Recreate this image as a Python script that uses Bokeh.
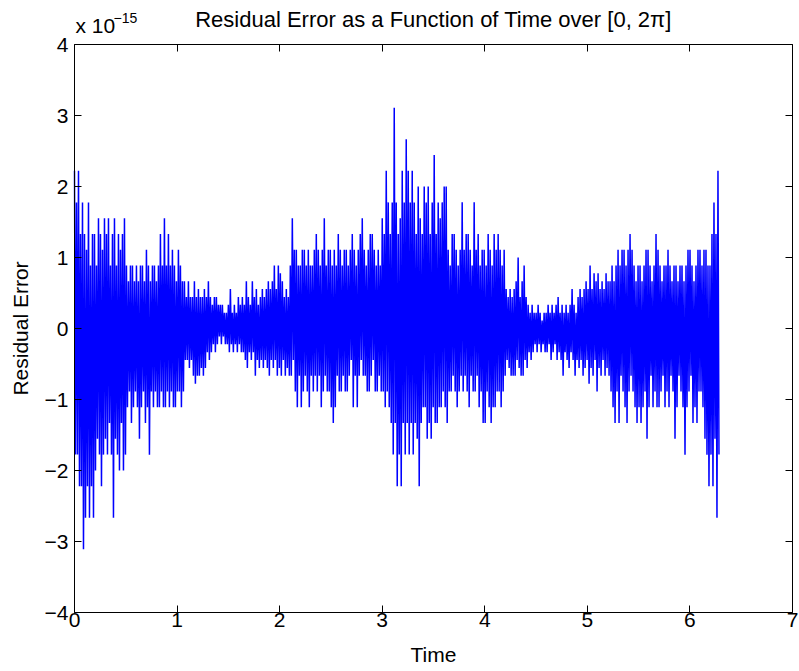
import numpy as np
from bokeh.plotting import figure
from bokeh.models import LinearAxis, FixedTicker, Label, Range1d
from bokeh.embed import file_html
from bokeh.resources import INLINE

# Residual values, in units of 2**-53 (half machine epsilon).
# "crest" values are the upward strokes, "trough" values the downward strokes,
# one after the other along the time axis.
crest_a = [20, 16, 20, 12, 16, 12, 10, 16, 8, 12, 12, 8, 14, 12, 10, 14, 12, 14, 8, 12, 14, 8, 12, 10, 12, 14]
trough_a = [-16, -16, -20, -20, -28, -24, -20, -24, -20, -24, -18, -14, -16, -20, -16, -14, -16, -12, -16, -24, -14, -16, -18, -12, -18, -16]

crest_b = [8, 6, 8, 8, 6, 8, 6, 8, 8, 6, 10, 8, 6, 8, 8, 6, 8, 12, 8, 14, 8, 12, 8, 10, 8, 6, 10, 8, 6]
trough_b = [-10, -8, -12, -10, -8, -10, -14, -10, -8, -12, -10, -16, -8, -10, -8, -10, -10, -8, -10, -10, -8, -10, -8, -10, -10, -8, -8, -10, -8]

crest_c1 = [6, 4, 6, 4, 4, 6, 4, 5, 4]
trough_c1 = [-4, -4, -5, -4, -6, -7, -6, -6, -5]

crest_c2 = [4, 5, 4, 6, 4, 3, 4, 4, 3, 3, 3, 2, 2, 3, 5, 2, 3, 2, 4, 3, 4, 3, 6, 4, 3, 6,
            4, 5, 3, 4, 5, 4, 5, 6, 5, 6, 8, 5, 8, 7, 6, 4, 5, 4]
trough_c2 = [-6, -5, -3, -4, -3, -2, -3, -2, -1, -2, -1, -2, -2, -3, -2, -3, -2, -3, -2, -3, -3, -4, -5, -3, -4, -3,
             -6, -4, -5, -4, -5, -4, -5, -6, -4, -5, -4, -6, -5, -6, -4, -6, -5, -6]

crest_d1 = [8, 14, 10, 10, 8, 8, 10, 10, 8, 10, 8, 8, 10, 12, 10, 8, 10, 14, 8, 10, 10, 8, 10, 8,
            12, 10, 8, 10, 10, 8, 10, 12, 10, 8, 10, 12, 14, 10, 8, 10, 12, 12, 10, 8, 10, 8]
trough_d1 = [-6, -4, -8, -10, -6, -10, -8, -6, -8, -10, -6, -8, -6, -8, -6, -10, -8, -6, -8, -8, -10, -12, -10, -6,
             -8, -8, -6, -8, -8, -6, -4, -10, -6, -10, -6, -4, -6, -6, -8, -8, -6, -4, -8, -8, -6, -8]

crest_d2 = [14, 12, 20, 16, 12, 16, 28, 16, 12, 14, 20, 16, 24, 20, 16, 20, 16, 12, 18, 14, 12, 18, 16, 18,
            12, 16, 22, 12, 16, 14, 16, 18]
trough_d2 = [-8, -10, -8, -10, -12, -16, -12, -20, -16, -20, -12, -16, -12, -16, -12, -16, -12, -14, -20, -12,
             -10, -10, -14, -12, -14, -10, -12, -12, -10, -10, -8, -10]

crest_d3 = [18, 10, 8, 12, 12, 10, 8, 10, 16, 10, 12, 12, 10, 8, 16, 10, 12, 8, 10, 10, 8, 12, 10, 8, 12, 10, 12, 10, 8, 10]
trough_d3 = [-12, -8, -8, -6, -8, -10, -8, -6, -8, -6, -8, -10, -6, -8, -8, -6, -10, -8, -12, -12, -8, -10, -12, -10,
             -10, -8, -8, -10, -8, -6]

crest_f1 = [5, 4, 5, 4, 5, 6, 9, 4, 6, 8, 4]
trough_f1 = [-4, -5, -6, -6, -6, -4, -5, -6, -6, -4, -5]

crest_f2 = [3, 2, 3, 2, 2, 3, 2, 1, 2,
            2, 3, 2, 3, 2, 3, 4, 2, 3, 2, 3, 2, 3, 5, 3, 2,
            4, 5, 4, 5, 6, 5, 8, 5, 7, 6, 7, 5, 6, 5, 7, 6]
trough_f2 = [-3, -4, -3, -2, -3, -2, -3, -2, -3,
             -3, -2, -4, -3, -2, -4, -3, -4, -6, -3, -4, -5, -3, -4, -6, -4,
             -5, -4, -6, -5, -4, -7, -5, -6, -4, -8, -5, -6, -4, -6, -5, -6]

crest_e = [6, 8, 6, 8, 10, 8, 10, 10, 8, 10, 12, 10, 8, 6, 8, 8, 6, 8, 10, 10, 8, 6, 8, 12, 10, 8, 6, 8,
           8, 10, 8, 6, 8, 8, 6, 8, 8, 6, 8, 10, 10, 8, 6, 8, 10, 10, 8, 10, 10, 8, 8, 12, 16, 12, 20]
trough_e = [-8, -10, -12, -8, -12, -6, -8, -10, -12, -8, -6, -8, -10, -12, -10, -12, -10, -8, -14, -10, -6, -10,
            -8, -10, -10, -8, -6, -10, -8, -10, -6, -8, -14, -10, -6, -8, -10, -16, -10, -8, -6, -12, -10, -12,
            -8, -8, -10, -14, -16, -20, -16, -20, -14, -24, -16]

x_ticks = [0, 1, 2, 3, 4, 5, 6, 7]
y_ticks = [-4, -3, -2, -1, 0, 1, 2, 3, 4]
y_tick_labels = ["\u22124", "\u22123", "\u22122", "\u22121", "0", "1", "2", "3", "4"]
X_MIN, X_MAX = 0, 7
Y_MIN, Y_MAX = -4, 4

TITLE = "Residual Error as a Function of Time over [0, 2\u03c0]"
FONT = "Liberation Sans"

UNIT = 2.0 ** -53     # residual quantum
SCALE = 1e-15         # axis multiplier shown as "x 10^-15"

crests = np.array(crest_a + crest_b + crest_c1 + crest_c2 + crest_d1 + crest_d2 + crest_d3 + crest_f1 + crest_f2 + crest_e, float)
troughs = np.array(trough_a + trough_b + trough_c1 + trough_c2 + trough_d1 + trough_d2 + trough_d3 + trough_f1 + trough_f2 + trough_e, float)
n = min(len(crests), len(troughs))
resid = np.empty(2 * n)
resid[0::2] = crests[:n]
resid[1::2] = troughs[:n]
t = np.linspace(0.0, 2.0 * np.pi, 2 * n)
y = resid * UNIT / SCALE

# canvas layout (pixels): the axes box sits at these canvas positions
W, H = 799, 671
BOX_L, BOX_R, BOX_T, BOX_B = 74, 792, 44, 612
sx = (BOX_R - BOX_L) / (X_MAX - X_MIN)
sy = (BOX_B - BOX_T) / (Y_MAX - Y_MIN)
x_range = Range1d(X_MIN - BOX_L / sx, X_MAX + (W - BOX_R) / sx)
y_range = Range1d(Y_MIN - (H - BOX_B) / sy, Y_MAX + BOX_T / sy)

p = figure(width=W, height=H, x_range=x_range, y_range=y_range,
           output_backend="svg", toolbar_location=None,
           min_border_left=0, min_border_right=0, min_border_top=0, min_border_bottom=0)
p.background_fill_color = "white"
p.border_fill_color = "white"
p.outline_line_color = None
p.grid.visible = False

p.line(t, y, line_color="#0000ff", line_width=1.5)

def style_axis(ax, ticks, bounds, loc):
    ax.ticker = FixedTicker(ticks=ticks)
    ax.bounds = bounds
    ax.fixed_location = loc
    ax.major_tick_in = 7
    ax.major_tick_out = 0
    ax.minor_tick_in = 0
    ax.minor_tick_out = 0
    ax.axis_line_color = "black"
    ax.axis_line_width = 1
    ax.major_tick_line_color = "black"
    ax.major_label_text_font = FONT
    ax.major_label_text_font_size = "21px"
    ax.major_label_text_color = "black"
    ax.axis_label_text_font = FONT
    ax.axis_label_text_font_size = "21px"
    ax.axis_label_text_font_style = "normal"
    ax.axis_label_text_color = "black"

xax = p.xaxis[0]
style_axis(xax, x_ticks, (X_MIN, X_MAX), Y_MIN)
xax.axis_label = "Time"
xax.major_label_standoff = 0
xax.axis_label_standoff = 13

yax = p.yaxis[0]
style_axis(yax, y_ticks, (Y_MIN, Y_MAX), X_MIN)
yax.major_label_overrides = {v: s for v, s in zip(y_ticks, y_tick_labels)}
yax.axis_label = "Residual Error"
yax.major_label_standoff = 6
yax.axis_label_standoff = 10

top_axis = LinearAxis()
style_axis(top_axis, x_ticks, (X_MIN, X_MAX), Y_MAX)
top_axis.major_label_overrides = {v: "" for v in x_ticks}
right_axis = LinearAxis()
style_axis(right_axis, y_ticks, (Y_MIN, Y_MAX), X_MAX)
right_axis.major_label_overrides = {v: "" for v in y_ticks}
p.add_layout(top_axis, "above")
p.add_layout(right_axis, "right")

# title, centred over the axes box
p.add_layout(Label(x=(X_MIN + X_MAX) / 2, y=Y_MAX, y_offset=25, text=TITLE,
                   text_font=FONT, text_font_size="22px", text_color="black",
                   text_align="center", text_baseline="alphabetic"))
# multiplier label above the top-left corner of the box
p.add_layout(Label(x=X_MIN, y=Y_MAX, x_offset=1, y_offset=19, text="x 10",
                   text_font=FONT, text_font_size="21px", text_color="black",
                   text_baseline="alphabetic"))
p.add_layout(Label(x=X_MIN, y=Y_MAX, x_offset=39, y_offset=27, text="\u221215",
                   text_font=FONT, text_font_size="14px", text_color="black",
                   text_baseline="alphabetic"))

open("out.html", "w").write(file_html(p, INLINE))
